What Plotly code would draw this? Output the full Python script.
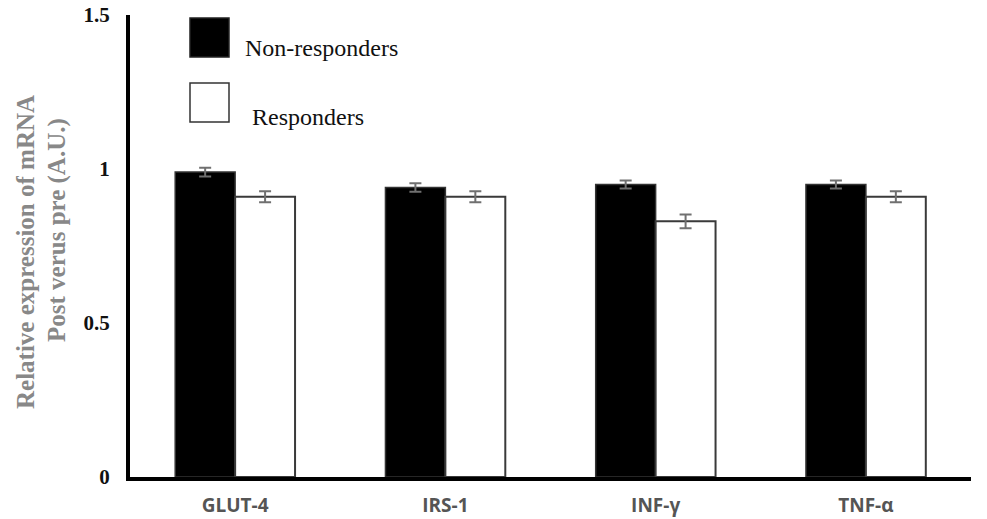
import plotly.graph_objects as go

# Gene targets and relative mRNA expression (post vs pre, A.U.)
genes = ["GLUT-4", "IRS-1", "INF-γ", "TNF-α"]
non_responders = [0.99, 0.94, 0.95, 0.95]
non_responders_err = [0.014, 0.014, 0.013, 0.013]
responders = [0.91, 0.91, 0.83, 0.91]
responders_err = [0.018, 0.018, 0.022, 0.018]
y_ticks = [0, 0.5, 1, 1.5]
y_tick_text = ["0", "0.5", "1", "1.5"]
series_names = ["Non-responders", "Responders"]

W, H = 987, 519
L, R, T, B = 130, 16, 15, 42
plot_w, plot_h = W - L - R, H - T - B


def px(x):
    return (x - L) / plot_w


def py(y):
    return (H - B - y) / plot_h


fig = go.Figure()
fig.add_trace(go.Bar(
    x=genes, y=non_responders, name=series_names[0],
    marker=dict(color="#000000", line=dict(color="#333333", width=1.5)),
    error_y=dict(type="data", array=non_responders_err, color="#707070",
                 thickness=2, width=6),
))
fig.add_trace(go.Bar(
    x=genes, y=responders, name=series_names[1],
    marker=dict(color="#ffffff", line=dict(color="#3a3a3a", width=2)),
    error_y=dict(type="data", array=responders_err, color="#707070",
                 thickness=2, width=6),
))

fig.update_layout(
    width=W, height=H,
    margin=dict(l=L, r=R, t=T, b=B),
    paper_bgcolor="white", plot_bgcolor="white",
    barmode="group", bargap=0.43, bargroupgap=0,
    showlegend=False,
    xaxis=dict(
        automargin=False,
        showgrid=False, zeroline=False, showline=True,
        linecolor="#000000", linewidth=4, ticks="",
        tickfont=dict(family="Open Sans", size=19, color="#555555", weight="bold"),
        ticklabelstandoff=8,
    ),
    yaxis=dict(
        automargin=False,
        range=[0, 1.5], tickvals=y_ticks, ticktext=y_tick_text,
        showgrid=False, zeroline=False, showline=True,
        linecolor="#000000", linewidth=4, ticks="",
        tickfont=dict(family="Liberation Serif", size=21, color="#111111", weight="bold"),
        ticklabelstandoff=12,
    ),
)

# Y-axis title as two rotated lines
title_lines = ["Relative expression of mRNA", "Post verus pre (A.U.)"]
title_x = [25, 57]
title_y = [252, 230]
for text, tx, ty in zip(title_lines, title_x, title_y):
    fig.add_annotation(
        x=px(tx), y=py(ty), xref="paper", yref="paper",
        text=text, showarrow=False, textangle=-90,
        xanchor="center", yanchor="middle",
        font=dict(family="Liberation Serif", size=25, color="#888888", weight="bold"),
    )

# Legend keys drawn as large squares with labels
legend_fill = ["#000000", "#ffffff"]
legend_line = ["#222222", "#333333"]
legend_top = [18, 83]
legend_text_x = [243, 250]
legend_text_y = [48, 117]
for name, fill, line, top, lx, ly in zip(series_names, legend_fill, legend_line,
                                          legend_top, legend_text_x, legend_text_y):
    fig.add_shape(
        type="rect", xref="paper", yref="paper",
        x0=px(190), x1=px(229), y0=py(top + 39), y1=py(top),
        fillcolor=fill, line=dict(color=line, width=1.5),
    )
    fig.add_annotation(
        x=px(lx), y=py(ly), xref="paper", yref="paper",
        text=name, showarrow=False, xanchor="left", yanchor="middle",
        font=dict(family="Liberation Serif", size=24, color="#111111"),
    )

fig.write_html("out.html")
